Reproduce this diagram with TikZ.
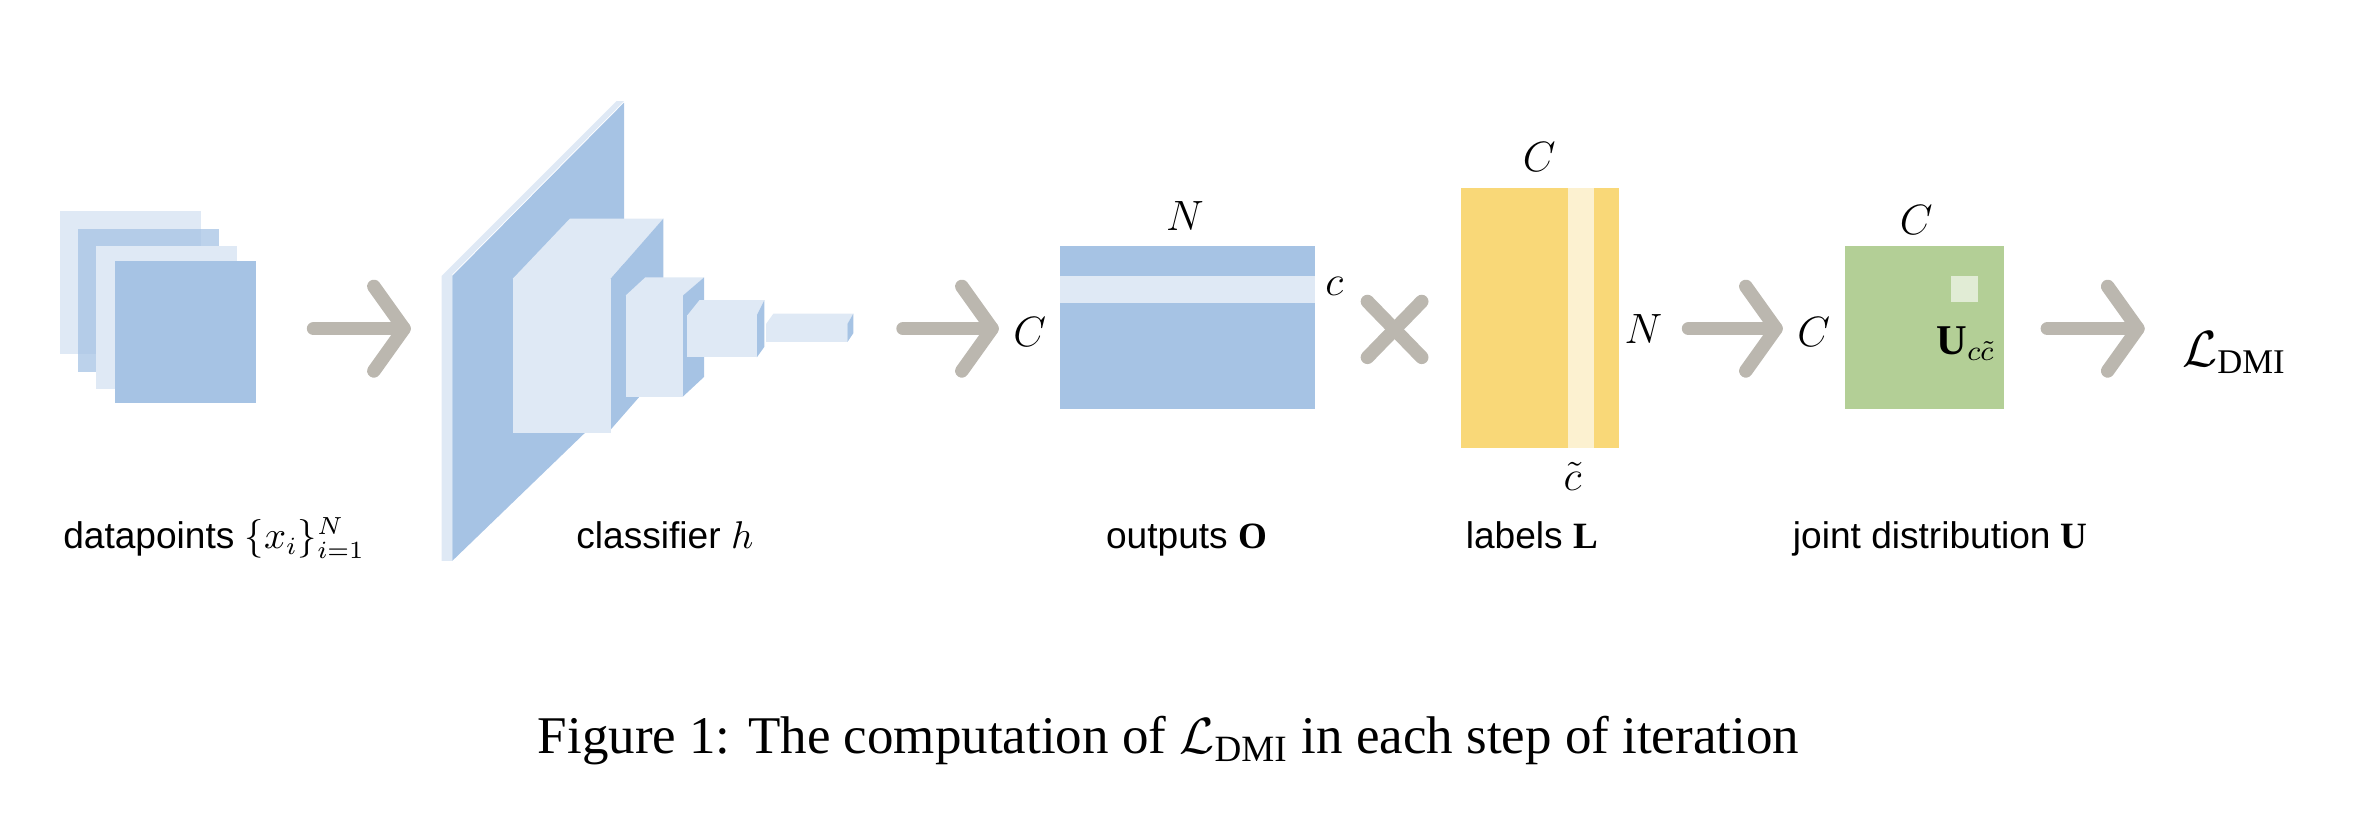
\documentclass[tikz,border=0pt]{standalone}
\usepackage{fontspec}
\setsansfont{Liberation Sans}
\setmainfont{Liberation Serif}
\usepackage{amsmath}
\begin{document}
\begin{tikzpicture}[x=0.15mm,y=-0.15mm,
  lbl/.style={font=\sffamily\fontsize{10.5}{13}\selectfont,anchor=base},
  mth/.style={font=\fontsize{12}{14}\selectfont},
  garrow/.style={line width=1.35mm,draw=arrgray,line cap=round,line join=round}]
\definecolor{bl}{RGB}{166,195,228}
\definecolor{lblue}{RGB}{223,233,245}
\definecolor{ye}{RGB}{249,216,120}
\definecolor{lye}{RGB}{252,241,208}
\definecolor{gr}{RGB}{179,207,150}
\definecolor{lgr}{RGB}{225,236,213}
\definecolor{arrgray}{RGB}{187,183,175}
\useasboundingbox (0,0) rectangle (1568,543);
\newcommand{\garr}[3]{\draw[garrow] (#1,#3)--(#2,#3); \draw[garrow] (#2-20,#3-28)--(#2,#3)--(#2-20,#3+28);}
% datapoints
\fill[lblue] (40,140) rectangle (133,235);
\fill[bl,opacity=0.75] (52,152) rectangle (145,247);
\fill[lblue] (64,163) rectangle (157,258);
\fill[bl] (76,173) rectangle (170,267);
% arrow 1
\garr{208}{268}{218}
% classifier
\fill[lblue] (293,183)--(409,67)--(414,67)--(300,182)--(300,372)--(293,372)--cycle;
\fill[bl] (300,183)--(414,68)--(414,262)--(300,372)--cycle;
% box1
\fill[lblue] (340,185)--(378,145)--(440,145)--(405,185)--cycle;
\fill[bl] (405,185)--(440,145)--(440,245)--(405,285)--cycle;
\fill[lblue] (340,185) rectangle (405,287);
% box2
\fill[lblue] (415,196)--(428,184)--(467,184)--(453,196)--cycle;
\fill[bl] (453,196)--(467,184)--(467,250)--(453,263)--cycle;
\fill[lblue] (415,196) rectangle (453,263);
% box3
\fill[lblue] (456,209)--(464,199)--(507,199)--(502,209)--cycle;
\fill[bl] (502,209)--(507,199)--(507,230)--(502,237)--cycle;
\fill[lblue] (456,209) rectangle (502,237);
% box4
\fill[lblue] (508,215)--(513,208)--(566,208)--(562,215)--cycle;
\fill[bl] (562,215)--(566,208)--(566,221)--(562,227)--cycle;
\fill[lblue] (508,215) rectangle (562,227);
% arrow 2
\garr{599}{658}{218}
% outputs O
\fill[bl] (703,163) rectangle (872,271);
\fill[lblue] (703,183) rectangle (872,201);
\node[mth] (oC) at (683,220) {$C$};
\node[mth] (oN) at (786,143) {$N$};
\node[mth] (oc) at (885,190) {$c$};
% cross
\draw[garrow] (907,200)--(943,237);
\draw[garrow] (943,200)--(907,237);
% labels L
\fill[ye] (969,125) rectangle (1074,297);
\fill[lye] (1040,125) rectangle (1057,297);
\node[mth] (lC) at (1021,104) {$C$};
\node[mth] (lN) at (1090,218) {$N$};
\node[mth] (lc) at (1043,316) {$\tilde{c}$};
% arrow 3
\garr{1120}{1178}{218}
\node[mth] (uC) at (1203,220) {$C$};
% U
\fill[gr] (1224,163) rectangle (1329,271);
\fill[lgr] (1294,183) rectangle (1312,200);
\node[mth] (uT) at (1271,146) {$C$};
\node[mth] (uU) at (1304,228) {$\mathbf{U}_{c\tilde{c}}$};
% arrow 4
\garr{1358}{1418}{218}
\node[font=\fontsize{14}{16}\selectfont] (L) at (1482,234) {$\mathcal{L}_{\mathrm{DMI}}$};
% bottom labels
\node[lbl] (d) at (142,364) {datapoints $\{x_i\}_{i=1}^N$};
\node[lbl] (h) at (441,364) {classifier $h$};
\node[lbl] (o) at (787,364) {outputs $\mathbf{O}$};
\node[lbl] (l) at (1016,364) {labels $\mathbf{L}$};
\node[lbl] (u) at (1287,364) {joint distribution $\mathbf{U}$};
% caption
\node[font=\fontsize{15}{18}\selectfont,anchor=base] (cap) at (775,500) {Figure 1: The computation of $\mathcal{L}_{\mathrm{DMI}}$ in each step of iteration};
\end{tikzpicture}
\end{document}
